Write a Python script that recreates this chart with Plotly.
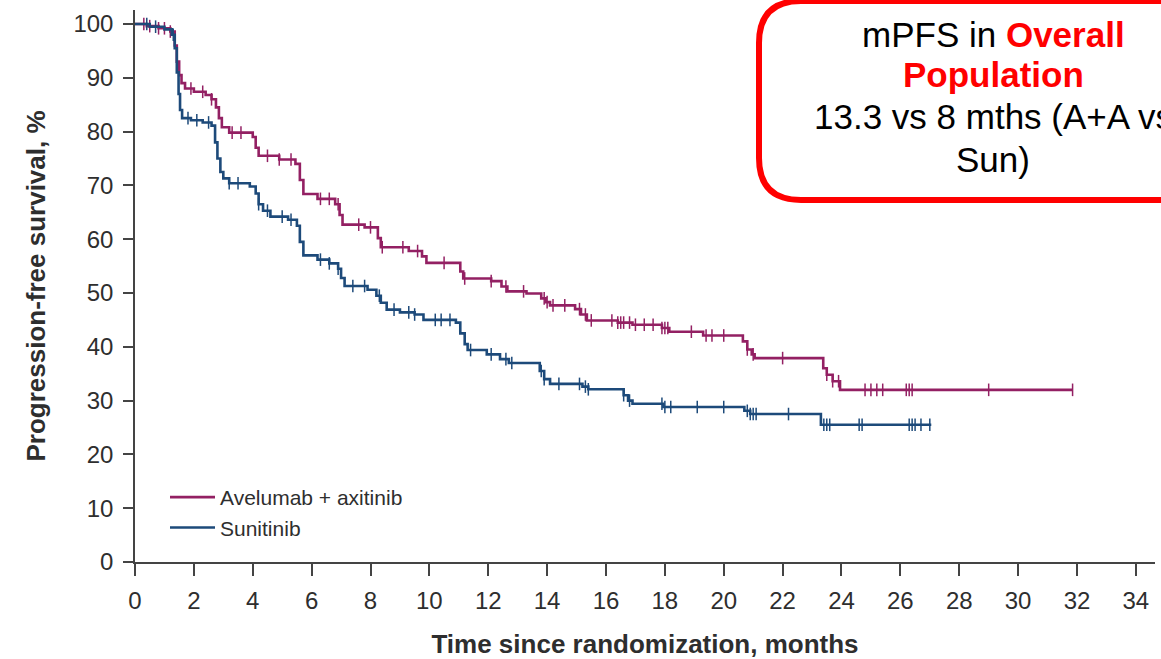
import numpy as np
import plotly.graph_objects as go

# ---- Data ----
ava_t = [0, 0.4, 0.8, 1.2, 1.35, 1.42, 1.5, 1.58, 1.7, 2.0, 2.4, 2.6, 2.75, 2.85, 2.95, 3.2,
         4.0, 4.1, 4.2, 4.9, 5.45, 5.6, 5.72, 6.2, 6.8, 6.95, 7.05, 7.8, 8.25, 8.35, 9.3,
         9.75, 9.9, 11.05, 11.15, 12.1, 12.45, 12.65, 13.3, 13.8, 13.95, 14.1, 14.95, 15.15,
         15.35, 16.4, 16.9, 17.9, 18.15, 19.3, 20.65, 20.8, 20.95, 21.05, 23.38, 23.5, 23.7,
         23.95, 31.85]
ava_s = [100, 99.6, 99.2, 98.6, 96, 93, 90.5, 89, 88, 87.4, 86.8, 86, 84.5, 82.5, 80.8, 79.8,
         79.0, 77, 75.5, 74.8, 74.0, 71, 68.4, 67.5, 66.5, 64.5, 62.7, 62.2, 60.2, 58.5, 57.8,
         56.8, 55.6, 54, 52.7, 52.2, 51.2, 50.3, 49.9, 49, 48.3, 47.7, 47, 46,
         44.9, 44.5, 44.1, 43.5, 42.8, 42.1, 41, 39.5, 38.6, 37.9, 36, 34.8, 33.6,
         32.0, 32.0]
ava_cens = [0.3, 0.5, 0.8, 1.0, 1.2, 1.9, 2.3, 2.6, 3.3, 3.6, 4.5, 4.9, 5.3, 6.3, 6.6, 6.9,
            7.6, 8.0, 8.4, 9.1, 9.6, 10.5, 11.2, 12.1, 12.6, 13.2, 13.9, 14.0, 14.2, 14.6,
            15.1, 15.3, 15.5, 16.2, 16.4, 16.5, 16.6, 16.8, 17.0, 17.3, 17.6, 17.9, 18.0,
            18.1, 18.9, 19.4, 19.6, 20.0, 20.8, 21.0, 22.0, 23.5, 23.7, 23.9, 24.8, 25.0,
            25.2, 25.4, 26.2, 26.3, 26.4, 29.0, 31.85]

sun_t = [0, 0.5, 1.0, 1.25, 1.35, 1.42, 1.48, 1.53, 1.6, 1.9, 2.3, 2.6, 2.72, 2.8, 2.9, 3.0,
         3.2, 3.9, 4.1, 4.2, 4.35, 4.6, 5.2, 5.5, 5.6, 5.72, 6.2, 6.6, 6.9, 7.0, 7.12, 7.9,
         8.2, 8.35, 8.55, 9.0, 9.5, 9.8, 10.9, 11.05, 11.2, 11.3, 11.95, 12.4, 12.7, 13.75,
         13.9, 14.1, 15.2, 15.4, 16.6, 16.75, 16.9, 17.95, 20.7, 20.9, 23.3, 27.05]
sun_s = [100, 99.5, 99, 98, 95.5, 91, 87, 84, 82.5, 82.1, 81.7, 81.1, 78, 75, 72.5, 71.3,
         70.4, 69.8, 68.5, 66.5, 65.3, 64.2, 63.6, 62.5, 59.5, 57.0, 56.2, 55.5, 54.5, 52.8,
         51.3, 50.6, 49.5, 48.2, 46.9, 46.4, 46.0, 45.0, 44.5, 42.5, 40.5, 39.4, 38.6, 37.7,
         37.0, 35.5, 34, 33.1, 32.6, 32.1, 31, 30, 29.4, 28.8, 28.1, 27.5, 25.5, 25.5]
sun_cens = [0.4, 0.7, 1.3, 1.8, 2.1, 2.5, 3.2, 3.5, 4.2, 4.5, 5.0, 5.3, 6.3, 6.6, 6.9, 7.4,
            7.8, 8.3, 8.8, 9.3, 9.5, 10.2, 10.4, 10.7, 11.4, 12.1, 12.6, 12.8, 13.8, 13.9,
            14.4, 15.1, 15.3, 15.4, 16.6, 16.8, 17.9, 18.0, 18.2, 19.1, 20.0, 20.8, 20.9,
            21.0, 21.1, 22.2, 23.4, 23.5, 23.6, 24.6, 24.7, 26.3, 26.4, 26.5, 26.7, 27.0]

series_names = ["Avelumab + axitinib", "Sunitinib"]
x_ticks = list(range(0, 36, 2))
y_ticks = list(range(0, 101, 10))

ava_color = "#932063"
sun_color = "#1d4a7a"
txt_color = "#2e2e2e"
font_family = "Liberation Sans, Arial, Helvetica, sans-serif"


def step_at(times, surv, q):
    times = np.asarray(times)
    surv = np.asarray(surv)
    idx = np.searchsorted(times, np.asarray(q), side="right") - 1
    return surv[np.clip(idx, 0, len(surv) - 1)]


fig = go.Figure()
for name, t, s, c, col, grp in [
    (series_names[0], ava_t, ava_s, ava_cens, ava_color, "a"),
    (series_names[1], sun_t, sun_s, sun_cens, sun_color, "b"),
]:
    fig.add_trace(go.Scatter(x=t, y=s, mode="lines", name=name, legendgroup=grp,
                             line=dict(color=col, width=2.6, shape="hv")))
    fig.add_trace(go.Scatter(x=c, y=step_at(t, s, c), mode="markers", showlegend=False,
                             legendgroup=grp, hoverinfo="skip",
                             marker=dict(symbol="line-ns", size=9,
                                         line=dict(color=col, width=1.5))))

W, H = 1161, 659
L, R, T, B = 135, 6, 10, 97
pw, ph = W - L - R, H - T - B


def px(xp):
    return (xp - L) / pw


def py(yp):
    return (H - B - yp) / ph


# rounded red box (partly beyond the right/top edge)
x0, x1 = px(759), px(1250)
y0, y1 = py(200), py(1)
rx, ry = 42 / pw, 42 / ph
path = (f"M{x0 + rx},{y0} L{x1},{y0} L{x1},{y1} L{x0 + rx},{y1} "
        f"Q{x0},{y1} {x0},{y1 - ry} L{x0},{y0 + ry} Q{x0},{y0} {x0 + rx},{y0} Z")
fig.add_shape(type="path", path=path, xref="paper", yref="paper",
              line=dict(color="#ff0000", width=6), fillcolor="rgba(255,255,255,0)")

box_font = dict(family=font_family, size=35, color="#000000")
lines = [
    ("mPFS in <b><span style='color:#ff0000'>Overall</span></b>", 36),
    ("<b><span style='color:#ff0000'>Population</span></b>", 76),
    ("13.3 vs 8 mths (A+A vs", 118),
    ("Sun)", 160),
]
for txt, ypix in lines:
    fig.add_annotation(text=txt, xref="paper", yref="paper", x=px(993), y=py(ypix - 1),
                       xanchor="center", yanchor="middle", showarrow=False, font=box_font)

axis_common = dict(showline=True, linecolor="#444444", linewidth=1.5, ticks="outside",
                   tickcolor="#444444", tickwidth=1.5, showgrid=False, zeroline=False,
                   tickfont=dict(family=font_family, size=24, color=txt_color))

fig.update_layout(
    width=W, height=H,
    margin=dict(l=L, r=R, t=T, b=B),
    plot_bgcolor="white", paper_bgcolor="white",
    xaxis=dict(range=[0, 34.65], tickvals=x_ticks, ticklen=12, ticklabelstandoff=4,
               title=dict(text="<b>Time since randomization, months</b>", standoff=22,
                          font=dict(family=font_family, size=26, color=txt_color)),
               **axis_common),
    yaxis=dict(range=[0, 102.6], tickvals=y_ticks, ticklen=10, ticklabelstandoff=5,
               title=dict(text="<b>Progression-free survival, %</b>", standoff=20,
                          font=dict(family=font_family, size=26, color=txt_color)),
               **axis_common),
    legend=dict(x=px(165), y=py(477), xanchor="left", yanchor="top",
                bgcolor="rgba(0,0,0,0)", itemwidth=45, tracegroupgap=0,
                font=dict(family=font_family, size=21, color=txt_color)),
    showlegend=True,
)

fig.write_html("out.html", post_script="document.body.style.margin='0';",
               config={"displayModeBar": False})
